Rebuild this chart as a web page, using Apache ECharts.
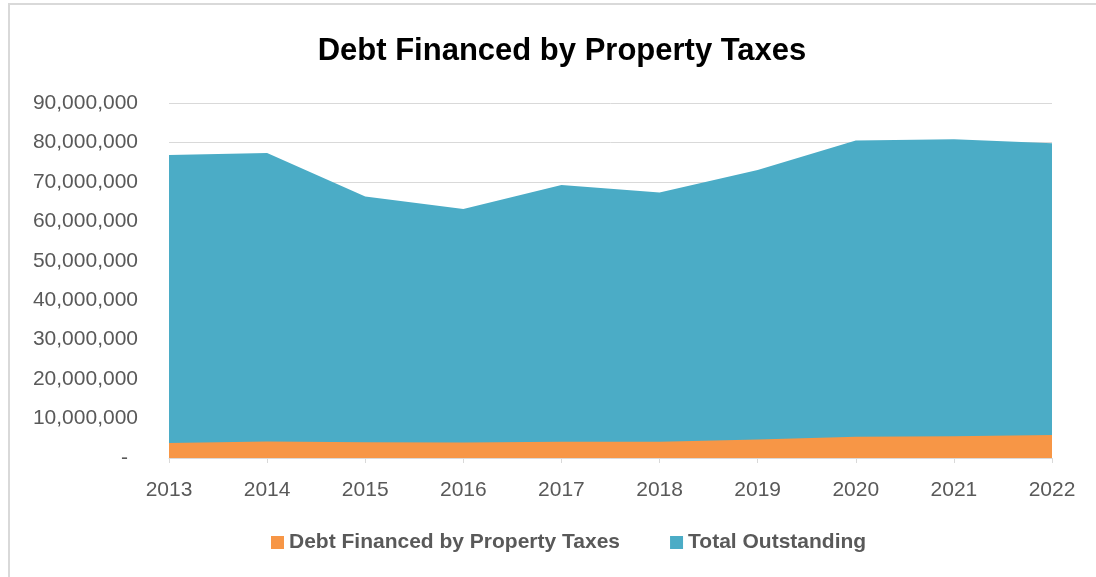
<!DOCTYPE html>
<html>
<head>
<meta charset="utf-8">
<script src="https://cdn.jsdelivr.net/npm/echarts@6/dist/echarts.min.js"></script>
<style>
  html, body { margin: 0; padding: 0; background: #fff; }
  #chart { width: 1096px; height: 577px; }
</style>
</head>
<body>
<div id="chart"></div>
<script>
// Fiscal years on the category axis
const years = ['2013', '2014', '2015', '2016', '2017', '2018', '2019', '2020', '2021', '2022'];

// Debt financed by property taxes (dollars)
const debtPropertyTax = [3800000, 4200000, 4000000, 3900000, 4100000, 4100000, 4700000, 5400000, 5500000, 5800000];

// Total outstanding debt (dollars)
const totalOutstanding = [76800000, 77300000, 66300000, 63100000, 69200000, 67300000, 73000000, 80500000, 80800000, 79800000];

// Value axis ticks
const yMax = 90000000;
const yStep = 10000000;

const FONT = '"Liberation Sans", Arial, sans-serif';

const chart = echarts.init(document.getElementById('chart'));

chart.setOption({
  backgroundColor: '#ffffff',
  animation: false,
  graphic: [{
    type: 'rect',
    shape: { x: 9, y: 4, width: 1200, height: 700 },
    style: { fill: 'none', stroke: '#d9d9d9', lineWidth: 2 },
    silent: true
  }],
  title: {
    text: 'Debt Financed by Property Taxes',
    left: 557,
    textAlign: 'center',
    top: 31,
    textStyle: { fontFamily: FONT, fontSize: 31, fontWeight: 'bold', color: '#000000' }
  },
  legend: {
    bottom: 19,
    left: 266,
    itemWidth: 13,
    itemHeight: 13,
    itemGap: 50,
    icon: 'rect',
    textStyle: { fontFamily: FONT, fontSize: 21, fontWeight: 'bold', color: '#595959' },
    data: ['Debt Financed by Property Taxes', 'Total Outstanding']
  },
  grid: { left: 169, right: 44, top: 103, bottom: 119, containLabel: false },
  xAxis: {
    type: 'category',
    data: years,
    boundaryGap: false,
    axisLine: { lineStyle: { color: '#d9d9d9', width: 1 } },
    axisTick: { show: true, length: 5, lineStyle: { color: '#d9d9d9' } },
    axisLabel: { fontFamily: FONT, fontSize: 21, color: '#595959', margin: 22 }
  },
  yAxis: {
    type: 'value',
    min: 0,
    max: yMax,
    interval: yStep,
    axisLine: { show: false },
    axisTick: { show: false },
    splitLine: { lineStyle: { color: '#d9d9d9', width: 1 } },
    axisLabel: {
      fontFamily: FONT,
      fontSize: 21,
      color: '#595959',
      margin: 31,
      formatter: function (v) {
        if (v === 0) return '{z|-}';
        return v.toLocaleString('en-US');
      },
      rich: {
        z: { fontFamily: FONT, fontSize: 21, color: '#595959', padding: [0, 10, 0, 0] }
      }
    }
  },
  series: [
    {
      name: 'Debt Financed by Property Taxes',
      type: 'line',
      data: debtPropertyTax,
      z: 4,
      showSymbol: false,
      symbol: 'none',
      lineStyle: { width: 0 },
      itemStyle: { color: '#f79646' },
      areaStyle: { color: '#f79646', opacity: 1 }
    },
    {
      name: 'Total Outstanding',
      type: 'line',
      data: totalOutstanding,
      z: 3,
      showSymbol: false,
      symbol: 'none',
      lineStyle: { width: 0 },
      itemStyle: { color: '#4bacc6' },
      areaStyle: { color: '#4bacc6', opacity: 1 }
    }
  ]
});
</script>
</body>
</html>
